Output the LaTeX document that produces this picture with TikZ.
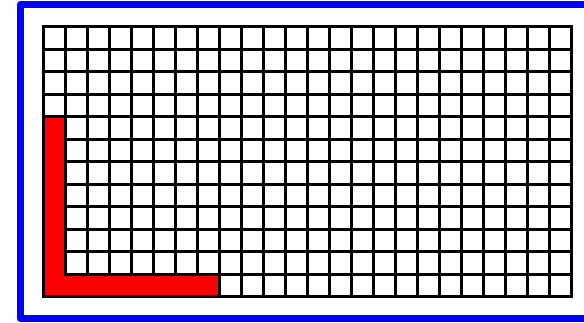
\documentclass[tikz,border=0pt]{standalone}
\begin{document}
\begin{tikzpicture}[x=1pt,y=-1pt,
  frameline/.style={draw=blue, line width=7pt, line join=round},
  gridline/.style={draw=black, line width=3pt},
  lshape/.style={fill=red}]
\useasboundingbox (0,0) rectangle (584,322);
\clip (0,0) rectangle (584,322);
\def\gx{43}\def\gy{26.5}\def\cw{22.0208}\def\ch{22.5}
\draw[frameline] (20.5,4) rectangle (594,318.5);
% grid
\foreach \i in {0,...,24} {
  \draw[gridline] ({\gx+\i*\cw},\gy) -- ({\gx+\i*\cw},{\gy+12*\ch});
}
\foreach \j in {0,...,12} {
  \draw[gridline] (\gx,{\gy+\j*\ch}) -- ({\gx+24*\cw},{\gy+\j*\ch});
}
% red L
\path[lshape] (\gx,{\gy+4*\ch}) -- ({\gx+\cw},{\gy+4*\ch}) -- ({\gx+\cw},{\gy+11*\ch})
  -- ({\gx+8*\cw},{\gy+11*\ch}) -- ({\gx+8*\cw},{\gy+12*\ch}) -- (\gx,{\gy+12*\ch}) -- cycle;
\draw[gridline] (\gx,{\gy+4*\ch}) -- ({\gx+\cw},{\gy+4*\ch}) -- ({\gx+\cw},{\gy+11*\ch})
  -- ({\gx+8*\cw},{\gy+11*\ch}) -- ({\gx+8*\cw},{\gy+12*\ch}) -- (\gx,{\gy+12*\ch}) -- cycle;
\draw[gridline] (\gx,\gy) rectangle ({\gx+24*\cw},{\gy+12*\ch});
\end{tikzpicture}
\end{document}
